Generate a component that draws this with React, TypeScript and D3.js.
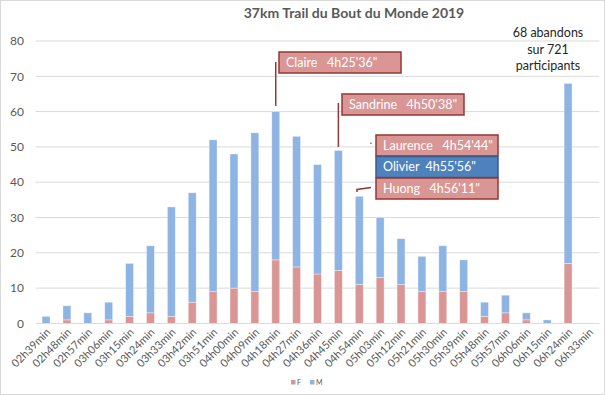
import React from "react";
import * as d3 from "d3";

const categories = ["02h39min","02h48min","02h57min","03h06min","03h15min","03h24min","03h33min","03h42min","03h51min","04h00min","04h09min","04h18min","04h27min","04h36min","04h45min","04h54min","05h03min","05h12min","05h21min","05h30min","05h39min","05h48min","05h57min","06h06min","06h15min","06h24min","06h33min"];
const totals = [2,5,3,6,17,22,33,37,52,48,54,60,53,45,49,36,30,24,19,22,18,6,8,3,1,68,0];
const womenF = [0,1,0,1,2,3,2,6,9,10,9,18,16,14,15,11,13,11,9,9,9,2,3,1,0,17,0];
const menM = totals.map((t, i) => t - womenF[i]);
const yTicks = [0,10,20,30,40,50,60,70,80];
const title = "37km Trail du Bout du Monde 2019";
const noteLines = ["68 abandons", "sur 721", "participants"];

const W = 605, H = 395;
const FONT = "Lato, 'Open Sans', sans-serif";
const TXT = "#595959";
const RED = "#D99694", BLUE = "#8DB4E2";

export default function App() {
  const x = d3.scaleBand<string>().domain(categories).range([35.6, 599.4]).paddingInner(0.62).paddingOuter(0.31);
  const y = d3.scaleLinear().domain([0, 80]).range([323.4, 41]);
  const rows = categories.map((c, i) => ({ c, F: womenF[i], M: menM[i] }));
  const stack = d3.stack<any>().keys(["F", "M"])(rows);
  const colors: Record<string, string> = { F: RED, M: BLUE };
  const cx = (c: string) => (x(c) as number) + x.bandwidth() / 2;

  const boxes = [
    { label: "Claire   4h25'36\"", x0: 279, y0: 52, w: 122, h: 21, fill: RED, stroke: "#953735" },
    { label: "Sandrine   4h50'38\"", x0: 342, y0: 94, w: 122, h: 21, fill: RED, stroke: "#953735" },
    { label: "Laurence   4h54'44\"", x0: 376, y0: 135, w: 122, h: 21, fill: RED, stroke: "#953735" },
    { label: "Olivier  4h55'56\"", x0: 376, y0: 156.5, w: 122, h: 21, fill: "#4F81BD", stroke: "#385D8A" },
    { label: "Huong   4h56'11\"", x0: 376, y0: 178, w: 122, h: 21, fill: RED, stroke: "#953735" },
  ];

  return (
    <svg width={W} height={H} style={{ position: "absolute", left: 0, top: 0, background: "#fff" }} fontFamily={FONT}>
      <rect x={0.5} y={0.5} width={W - 1} height={H - 1} fill="#fff" stroke="#d9d9d9" />
      <text x={354} y={18} textAnchor="middle" fontSize={14} fontWeight="bold" fill={TXT}>{title}</text>
      {yTicks.map(t => (
        <g key={t}>
          <line x1={35.6} x2={599.4} y1={y(t)} y2={y(t)} stroke="#d9d9d9" strokeWidth={1} />
          <text x={24} y={y(t)} dy="0.35em" textAnchor="end" fontSize={12} fill={TXT}>{t}</text>
        </g>
      ))}
      {stack.map(s => (
        <g key={s.key}>
          {s.map((d, i) => d[1] - d[0] > 0 ? (
            <rect key={i} x={x(categories[i])} width={x.bandwidth()} y={y(d[1])} height={y(d[0]) - y(d[1])}
              fill={colors[s.key]} stroke="#fff" strokeOpacity={0.5} strokeWidth={0.75} />
          ) : null)}
        </g>
      ))}
      {categories.map(c => (
        <text key={c} transform={`translate(${cx(c) + 5},${333}) rotate(-45)`} textAnchor="end" fontSize={11} fill={TXT}>{c}</text>
      ))}
      {/* legend */}
      <rect x={291} y={380} width={4.5} height={4.5} fill={RED} />
      <text x={297} y={384.5} fontSize={7} fill={TXT}>F</text>
      <rect x={310} y={380} width={4.5} height={4.5} fill={BLUE} />
      <text x={316} y={384.5} fontSize={7} fill={TXT}>M</text>
      {/* leader lines */}
      <line x1={cx("04h18min")} x2={cx("04h18min")} y1={62} y2={106} stroke="#953735" strokeWidth={1.5} />
      <line x1={cx("04h45min")} x2={cx("04h45min")} y1={103} y2={147} stroke="#953735" strokeWidth={1.5} />
      <line x1={370.5} x2={371.5} y1={143} y2={143.5} stroke="#953735" strokeWidth={1.5} />
      <polyline points="357,192 357,189.5 371,187.5" fill="none" stroke="#953735" strokeWidth={1.5} />
      {boxes.map(b => (
        <g key={b.label}>
          <rect x={b.x0} y={b.y0} width={b.w} height={b.h} fill={b.fill} stroke={b.stroke} strokeWidth={1.5} />
          <text x={b.x0 + 7} y={b.y0 + b.h / 2} dy="0.35em" fontSize={12.5} fill="#fff" style={{ whiteSpace: "pre" }}>{b.label}</text>
        </g>
      ))}
      {noteLines.map((l, i) => (
        <text key={l} x={548} y={37 + i * 16.5} textAnchor="middle" fontSize={12.5} fill="#262626">{l}</text>
      ))}
    </svg>
  );
}
